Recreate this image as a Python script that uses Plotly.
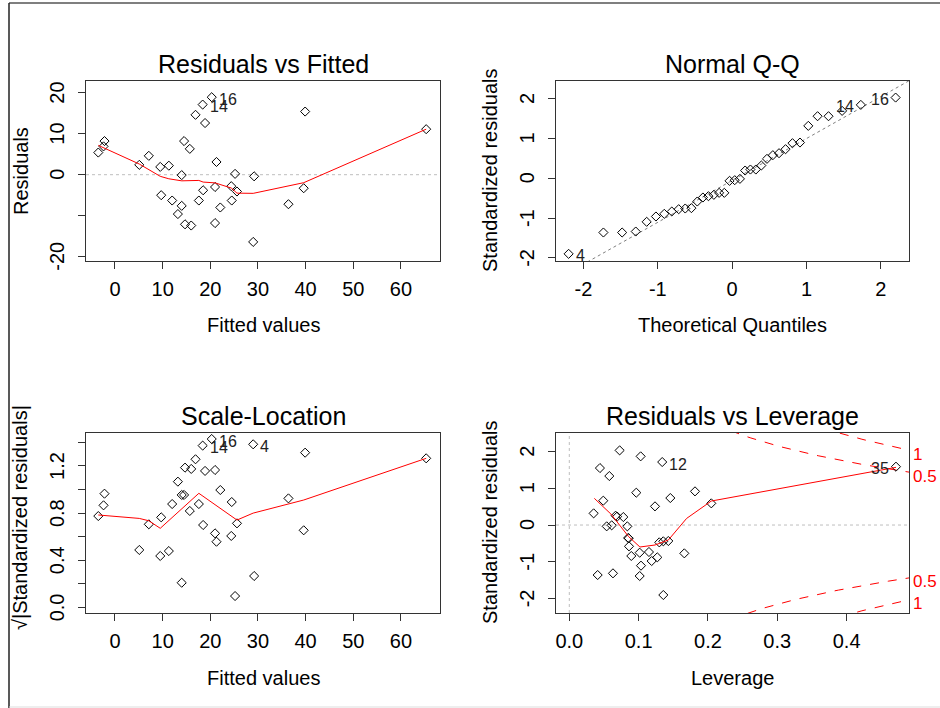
import numpy as np
import plotly.graph_objects as go

# ---------------- data ----------------
fitted = [-3.5, -2.4, -2.2, 5.1, 7.1, 9.5, 9.7, 11.3, 12.0, 13.2, 14.0, 14.0, 14.5, 14.7,
          16.0, 15.7, 16.9, 17.6, 18.4, 18.5, 18.9, 20.3, 21.3, 21.0, 21.0, 22.1, 24.4,
          25.6, 25.2, 24.5, 29.2, 29.0, 36.4, 39.6, 39.9, 65.3]
residuals = [5.4, 6.9, 8.2, 2.4, 4.6, 1.9, -5.0, 2.2, -6.3, -9.6, -0.1, -7.6, 8.2, -12.1,
             -12.4, 6.3, 14.6, -6.3, 17.1, -3.8, 12.6, 18.9, 3.1, -3.0, -11.8, -8.0, -2.8,
             -4.1, 0.2, -6.3, -0.4, -16.4, -7.2, -3.3, 15.4, 11.1]
sqrt_abs_std = [0.775, 0.866, 0.965, 0.487, 0.705, 0.436, 0.764, 0.478, 0.877, 1.067, 0.209,
                0.954, 0.954, 1.186, 1.175, 0.818, 1.257, 0.877, 1.373, 0.699, 1.158, 1.429,
                0.557, 0.628, 1.166, 0.996, 0.606, 0.713, 0.096, 0.894, 0.266, 1.384, 0.925,
                0.654, 1.313, 1.265]

# lowess smooth lines
rvf_smooth_x = [-3.5, 5.1, 9.5, 11.3, 14.0, 17.6, 18.5, 21.0, 24.4, 25.6, 29.0, 39.6, 65.3]
rvf_smooth_y = [7.15, 2.6, -0.4, -1.0, -1.5, -1.4, -1.8, -2.0, -3.25, -4.5, -4.55, -1.95, 11.1]
sl_smooth_x = [-3.5, 5.1, 7.1, 9.5, 17.6, 25.6, 29.0, 39.6, 65.3]
sl_smooth_y = [0.784, 0.755, 0.735, 0.671, 0.968, 0.741, 0.80, 0.911, 1.265]

# Normal Q-Q
theoretical_q = [-2.200, -1.732, -1.480, -1.297, -1.150, -1.025, -0.913, -0.812, -0.719,
                 -0.631, -0.548, -0.469, -0.393, -0.319, -0.246, -0.175, -0.105, -0.035,
                 0.035, 0.105, 0.175, 0.246, 0.319, 0.393, 0.469, 0.548, 0.631, 0.719,
                 0.812, 0.913, 1.025, 1.150, 1.297, 1.480, 1.732, 2.200]
std_sorted = [-1.900, -1.363, -1.363, -1.338, -1.094, -0.960, -0.893, -0.834, -0.776,
              -0.759, -0.750, -0.583, -0.482, -0.449, -0.415, -0.365, -0.365, -0.063,
              -0.046, -0.013, 0.197, 0.222, 0.222, 0.323, 0.491, 0.583, 0.633, 0.734,
              0.885, 0.901, 1.321, 1.564, 1.564, 1.698, 1.849, 2.033]

# Residuals vs Leverage
leverage = [0.0726, 0.1029, 0.134, 0.0442, 0.0577, 0.0966, 0.1813, 0.1457, 0.049, 0.1236,
            0.2048, 0.0351, 0.0668, 0.0690, 0.0779, 0.0539, 0.0611, 0.0837, 0.0856, 0.0850,
            0.0861, 0.0894, 0.1015, 0.1149, 0.1188, 0.1269, 0.1034, 0.1015, 0.0409, 0.063,
            0.1356, 0.1659, 0.1298, 0.1356, 0.1428, 0.4712]
std_resid = [2.036, 1.873, 1.718, 1.554, 1.336, 0.882, 0.918, 0.736, 0.664, 0.509, 0.591,
             0.318, 0.254, 0.230, 0.218, -0.036, -0.009, -0.036, -0.364, -0.350, -0.582,
             -0.845, -0.755, -0.736, -0.982, -0.882, -1.109, -1.391, -1.364, -1.318, -1.909,
             -0.773, -0.473, -0.445, -0.436, 1.591]
lev_smooth_x = [0.0361, 0.0600, 0.0856, 0.1019, 0.1236, 0.1428, 0.1692, 0.2048, 0.4712]
lev_smooth_y = [0.727, 0.30, -0.318, -0.60, -0.545, -0.41, 0.18, 0.654, 1.573]
n_coef = 4
cook_levels = [0.5, 1.0]

# tick labels
xt_fit = [0, 10, 20, 30, 40, 50, 60]
xt_fit_text = ["0", "10", "20", "30", "40", "50", "60"]
yt_res = [-20, -10, 0, 10, 20]
yt_res_text = ["-20", "", "0", "10", "20"]
t_std = [-2, -1, 0, 1, 2]
t_std_text = ["-2", "-1", "0", "1", "2"]
yt_sl = [0, 0.2, 0.4, 0.6, 0.8, 1.0, 1.2, 1.4]
yt_sl_text = ["0.0", "", "0.4", "", "0.8", "", "1.2", ""]
xt_lev = [0, 0.1, 0.2, 0.3, 0.4]
xt_lev_text = ["0.0", "0.1", "0.2", "0.3", "0.4"]

# point labels: (text, x, y, side)
rvf_labels = [("14", 18.4, 17.1, "r"), ("16", 20.3, 18.9, "r")]
qq_labels = [("4", -2.200, -1.900, "r"), ("14", 1.732, 1.849, "l"), ("16", 2.200, 2.033, "l")]
sl_labels = [("14", 18.4, 1.373, "r"), ("16", 20.3, 1.429, "r"), ("4", 29.0, 1.384, "r")]
lev_labels = [("12", 0.134, 1.718, "r"), ("35", 0.4712, 1.591, "l")]

# ---------------- layout geometry ----------------
W, H = 940, 708
FONT = "Liberation Sans, Arial, sans-serif"
def px(x): return x / W
def py(y): return 1 - y / H

col_dom = [[px(86), px(440)], [px(556), px(909)]]
row_dom = [[py(261), py(81)], [py(613), py(433)]]

fig = go.Figure()

def add_points(x, y, ax):
    fig.add_trace(go.Scatter(x=x, y=y, mode="markers", xaxis="x" + ax, yaxis="y" + ax,
                             marker=dict(symbol="diamond-open", size=7, color="black",
                                         line=dict(width=1, color="black")),
                             hoverinfo="skip"))

def add_line(x, y, ax, color="red", dash="solid"):
    fig.add_trace(go.Scatter(x=x, y=y, mode="lines", xaxis="x" + ax, yaxis="y" + ax,
                             line=dict(color=color, width=1, dash=dash), hoverinfo="skip"))

# Panel 1: Residuals vs Fitted
r1x = [-6.08, 68.2]
add_line(r1x, [0, 0], "", color="#BEBEBE", dash="dot")
add_points(fitted, residuals, "")
add_line(rvf_smooth_x, rvf_smooth_y, "")

# Panel 2: Normal Q-Q
r2x = [-2.37, 2.38]
q1, q3 = np.quantile(std_sorted, [0.25, 0.75])
z1, z3 = -0.6744898, 0.6744898
slope = (q3 - q1) / (z3 - z1)
inter = q1 - slope * z1
add_line(r2x, [inter + slope * r2x[0], inter + slope * r2x[1]], "2", color="#7f7f7f", dash="dot")
add_points(theoretical_q, std_sorted, "2")

# Panel 3: Scale-Location
add_points(fitted, sqrt_abs_std, "3")
add_line(sl_smooth_x, sl_smooth_y, "3")

# Panel 4: Residuals vs Leverage
r4x = [-0.0192, 0.49]
r4y = [-2.40, 2.51]
add_line([0, 0], r4y, "4", color="#BEBEBE", dash="dot")
add_line(r4x, [0, 0], "4", color="#BEBEBE", dash="dot")
hh = np.linspace(min(min(leverage), max(leverage) / 100), r4x[1], 101)
for lvl in cook_levels:
    cl = np.sqrt(lvl * n_coef * (1 - hh) / hh)
    add_line(hh, cl, "4", dash="dash")
    add_line(hh, -cl, "4", dash="dash")
add_points(leverage, std_resid, "4")
add_line(lev_smooth_x, lev_smooth_y, "4")

annotations = []
def label_pts(labels, ax):
    for t, x, y, side in labels:
        annotations.append(dict(text=t, x=x, y=y, xref="x" + ax, yref="y" + ax, showarrow=False,
                                xanchor="left" if side == "r" else "right",
                                xshift=5 if side == "r" else -5, yshift=-2, yanchor="middle",
                                font=dict(family=FONT, size=16, color="#222")))
label_pts(rvf_labels, "")
label_pts(qq_labels, "2")
label_pts(sl_labels, "3")
label_pts(lev_labels, "4")

# Cook's distance labels at right edge
h_edge = r4x[1]
for lvl in cook_levels:
    v = np.sqrt(lvl * n_coef * (1 - h_edge) / h_edge)
    for s in (1, -1):
        annotations.append(dict(text=f"{lvl:g}", x=h_edge, y=s * v, xref="x4", yref="y4",
                                showarrow=False, xanchor="left", xshift=2, yshift=-4,
                                yanchor="middle",
                                font=dict(family=FONT, size=17, color="red")))

# rotated y tick labels (R style, parallel to the axis)
def ytick_labels(vals, texts, ax, box_left):
    for v, t in zip(vals, texts):
        if t:
            annotations.append(dict(text=t, x=px(box_left - 29), y=v, xref="paper", yref="y" + ax,
                                    showarrow=False, xanchor="center", yanchor="middle",
                                    textangle=-90,
                                    font=dict(family=FONT, size=20, color="black")))
ytick_labels(yt_res, yt_res_text, "", 86)
ytick_labels(t_std, t_std_text, "2", 556)
ytick_labels(yt_sl, yt_sl_text, "3", 86)
ytick_labels(t_std, t_std_text, "4", 556)

def txt(t, x, y, size, angle=0):
    annotations.append(dict(text=t, x=px(x), y=py(y), xref="paper", yref="paper",
                            showarrow=False, xanchor="center", yanchor="middle",
                            textangle=angle, font=dict(family=FONT, size=size, color="black")))

txt("Residuals vs Fitted", 263, 64, 25)
txt("Normal Q-Q", 732, 64, 25)
txt("Scale-Location", 263, 416, 25)
txt("Residuals vs Leverage", 732, 416, 25)
txt("Fitted values", 263, 325, 20)
txt("Theoretical Quantiles", 732, 325, 20)
txt("Fitted values", 263, 678, 20)
txt("Leverage", 732, 678, 20)
txt("Residuals", 21, 171, 20, -90)
txt("Standardized residuals", 490, 171, 20, -90)
txt("√|Standardized residuals|", 20, 518, 20, -90)
txt("Standardized residuals", 490, 523, 20, -90)

def axis(domain, anchor, rng, tickvals, ticktext, is_y=False):
    d = dict(domain=domain, anchor=anchor, range=rng, showgrid=False, zeroline=False,
             showline=True, mirror=True, linecolor="#333", linewidth=1,
             ticks="outside", ticklen=7, tickcolor="#333", tickwidth=1,
             tickmode="array", tickvals=tickvals, ticktext=ticktext,
             tickfont=dict(family=FONT, size=20, color="black"),
             ticklabelstandoff=3, fixedrange=True)
    if is_y:
        d["showticklabels"] = False
    return d

fig.update_layout(
    width=W, height=H, margin=dict(l=0, r=0, t=0, b=0),
    paper_bgcolor="white", plot_bgcolor="white", showlegend=False,
    xaxis=axis(col_dom[0], "y", r1x, xt_fit, xt_fit_text),
    yaxis=axis(row_dom[0], "x", [-21.05, 22.85], yt_res, yt_res_text, True),
    xaxis2=axis(col_dom[1], "y2", r2x, t_std, t_std_text),
    yaxis2=axis(row_dom[0], "x2", [-2.08, 2.45], t_std, t_std_text, True),
    xaxis3=axis(col_dom[0], "y3", r1x, xt_fit, xt_fit_text),
    yaxis3=axis(row_dom[1], "x3", [-0.048, 1.48], yt_sl, yt_sl_text, True),
    xaxis4=axis(col_dom[1], "y4", r4x, xt_lev, xt_lev_text),
    yaxis4=axis(row_dom[1], "x4", r4y, t_std, t_std_text, True),
    annotations=annotations,
    shapes=[
        dict(type="line", xref="paper", yref="paper", x0=px(9), x1=1, y0=py(3), y1=py(3),
             line=dict(color="#555", width=1.5)),
        dict(type="line", xref="paper", yref="paper", x0=px(9), x1=px(9), y0=py(3), y1=0,
             line=dict(color="#222", width=1.5)),
        dict(type="line", xref="paper", yref="paper", x0=px(9), x1=1, y0=py(707), y1=py(707),
             line=dict(color="#ddd", width=1)),
    ],
)

fig.write_html("out.html")
